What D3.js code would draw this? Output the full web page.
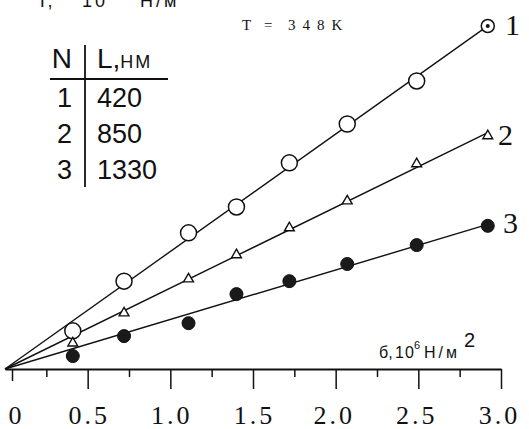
<!DOCTYPE html>
<html>
<head>
<meta charset="utf-8">
<script src="https://cdn.jsdelivr.net/npm/d3@7/dist/d3.min.js"></script>
<style>
	html, body { margin: 0; padding: 0; background: #fff; }
	svg { display: block; }
	.axis path, .axis line { stroke: #111; }
	.serif { font-family: 'Liberation Serif', 'Times New Roman', serif; }
	.sans { font-family: 'Liberation Sans', Arial, sans-serif; }
</style>
</head>
<body>
<div id="chart"></div>
<script>
// data (stress in 10^6 N/m^2, Γ in arbitrary units)
const stress = [0.41, 0.72, 1.11, 1.40, 1.72, 2.07, 2.49, 2.92];
const gamma1 = [1.09, 2.51, 3.89, 4.63, 5.89, 7.00, 8.23, 9.80];
const gamma2 = [0.74, 1.60, 2.57, 3.26, 4.03, 4.80, 5.86, 6.66];
const gamma3 = [0.37, 0.94, 1.31, 2.14, 2.51, 3.00, 3.54, 4.09];
const seriesNames = ['1', '2', '3'];
const legendN = ['1', '2', '3'];
const legendL = ['420', '850', '1330'];
const majorTicks = [0, 0.5, 1.0, 1.5, 2.0, 2.5, 3.0];
const minorTicks = [0.25, 0.75, 1.25, 1.75, 2.25, 2.75];

const width = 529, height = 429;

const x = d3.scaleLinear().domain([0, 3]).range([5, 501]);
const y = d3.scaleLinear().domain([0, 10]).range([369, 19]);

const svg = d3.select('#chart').append('svg')
	.attr('width', width)
	.attr('height', height);

// x axis: major ticks with labels, minor ticks without
svg.append('g')
	.attr('class', 'axis')
	.attr('transform', `translate(0, ${y(0)})`)
	.call(d3.axisBottom(x)
		.tickValues(majorTicks)
		.tickSize(20)
		.tickSizeOuter(0)
		.tickFormat(d => d === 0 ? '0' : d3.format('.1f')(d))
	)
	.call(g => g.select('.domain').attr('stroke-width', 1.8))
	.call(g => g.selectAll('.tick line').attr('stroke-width', 1.5))
	.call(g => g.selectAll('.tick').filter(d => d === 0).select('line')
		.attr('x1', 7).attr('x2', 7).attr('y2', 12))
	.call(g => g.selectAll('.tick text')
		.attr('class', 'serif')
		.attr('y', 37)
		.attr('dx', d => d === 0 ? 11 : (d >= 2 ? -2 : 1))
		.attr('fill', '#111')
		.style('font-size', '26px')
		.style('letter-spacing', '3px'));

svg.append('g')
	.attr('class', 'axis')
	.attr('transform', `translate(0, ${y(0)})`)
	.call(d3.axisBottom(x).tickValues(minorTicks).tickSize(8).tickFormat(''))
	.call(g => g.select('.domain').remove())
	.call(g => g.selectAll('.tick line').attr('stroke-width', 1.5));

// fitted straight lines through the origin
const series = [gamma1, gamma2, gamma3].map((vals, i) => ({
	name: seriesNames[i],
	points: stress.map((s, j) => ({ x: s, y: vals[j] }))
}));

series.forEach(s => {
	const slope = d3.sum(s.points, p => p.x * p.y) / d3.sum(s.points, p => p.x * p.x);
	const xEnd = stress[stress.length - 1];
	svg.append('line')
		.attr('x1', x(0)).attr('y1', y(0))
		.attr('x2', x(xEnd)).attr('y2', y(slope * xEnd))
		.attr('stroke', '#111')
		.attr('stroke-width', 1.4);
});

// series 1: open circles, the last one with a dot
const g1 = svg.append('g');
g1.selectAll('circle')
	.data(series[0].points)
	.enter().append('circle')
		.attr('cx', d => x(d.x))
		.attr('cy', d => y(d.y))
		.attr('r', (d, i) => i === stress.length - 1 ? 6.5 : 8)
		.attr('fill', '#fff')
		.attr('stroke', '#111')
		.attr('stroke-width', 1.5);
const last1 = series[0].points[stress.length - 1];
g1.append('circle')
	.attr('cx', x(last1.x)).attr('cy', y(last1.y))
	.attr('r', 2).attr('fill', '#111');

// series 2: open triangles
svg.append('g').selectAll('path')
	.data(series[1].points)
	.enter().append('path')
		.attr('d', d3.symbol(d3.symbolTriangle, 42))
		.attr('transform', d => `translate(${x(d.x)}, ${y(d.y)})`)
		.attr('fill', '#fff')
		.attr('stroke', '#111')
		.attr('stroke-width', 1.4);

// series 3: dark filled circles
svg.append('g').selectAll('circle')
	.data(series[2].points)
	.enter().append('circle')
		.attr('cx', d => x(d.x))
		.attr('cy', d => y(d.y))
		.attr('r', 6.5)
		.attr('fill', '#1a1a1a')
		.attr('stroke', '#111')
		.attr('stroke-width', 1);

// curve numbers
const labelPos = [[505, 35], [498, 145], [503, 233]];
svg.selectAll('.curve-label')
	.data(seriesNames)
	.enter().append('text')
		.attr('class', 'curve-label serif')
		.attr('x', (d, i) => labelPos[i][0])
		.attr('y', (d, i) => labelPos[i][1])
		.attr('fill', '#111')
		.style('font-size', '30px')
		.text(d => d);

// temperature note
const tNote = svg.append('text')
	.attr('class', 'serif')
	.attr('y', 30)
	.attr('fill', '#111')
	.style('font-size', '15px');
tNote.append('tspan').attr('x', 242).text('T');
tNote.append('tspan').attr('x', 264).text('=');
tNote.append('tspan').attr('x', 288).style('letter-spacing', '7px').text('348K');

// y label, cut off at the top edge as in the source scan
const yLab = svg.append('text')
	.attr('class', 'sans')
	.attr('y', 7)
	.attr('fill', '#111')
	.style('font-size', '18px');
yLab.append('tspan').attr('x', 40).text('Г,');
yLab.append('tspan').attr('x', 82).style('letter-spacing', '3px').text('10');
yLab.append('tspan').attr('dy', -8).style('font-size', '12px').text('-3');
yLab.append('tspan').attr('x', 140).attr('dy', 8).style('letter-spacing', '3px').text('Н/м');

// x label
const xLab = svg.append('text')
	.attr('class', 'sans')
	.attr('y', 358)
	.attr('fill', '#111')
	.style('font-size', '16px');
xLab.append('tspan').attr('x', 379).text('б,');
xLab.append('tspan').attr('x', 395).style('letter-spacing', '1px').text('10');
xLab.append('tspan').attr('x', 414).attr('dy', -9).style('font-size', '11px').text('6');
xLab.append('tspan').attr('x', 424).attr('dy', 9).style('letter-spacing', '3px').text('Н/м');
xLab.append('tspan').attr('x', 464).attr('dy', -11).style('font-size', '20px').text('2');

// legend table
const leg = svg.append('g').attr('class', 'sans').attr('fill', '#111');
leg.append('text').attr('x', 72).attr('y', 68).attr('text-anchor', 'end')
	.style('font-size', '28px').text('N');
const hdr = leg.append('text').attr('x', 97).attr('y', 68).style('font-size', '28px');
hdr.append('tspan').text('L,');
hdr.append('tspan').style('font-size', '18px').style('letter-spacing', '2px').text('НМ');
leg.append('line')
	.attr('x1', 50).attr('x2', 168).attr('y1', 79).attr('y2', 79)
	.attr('stroke', '#111').attr('stroke-width', 2);
leg.append('line')
	.attr('x1', 85).attr('x2', 85).attr('y1', 45).attr('y2', 187)
	.attr('stroke', '#111').attr('stroke-width', 1.8);
leg.selectAll('.row-n')
	.data(legendN)
	.enter().append('text')
		.attr('x', 72)
		.attr('y', (d, i) => 107 + i * 36)
		.attr('text-anchor', 'end')
		.style('font-size', '27px')
		.text(d => d);
leg.selectAll('.row-l')
	.data(legendL)
	.enter().append('text')
		.attr('x', 97)
		.attr('y', (d, i) => 107 + i * 36)
		.style('font-size', '27px')
		.text(d => d);
</script>
</body>
</html>
